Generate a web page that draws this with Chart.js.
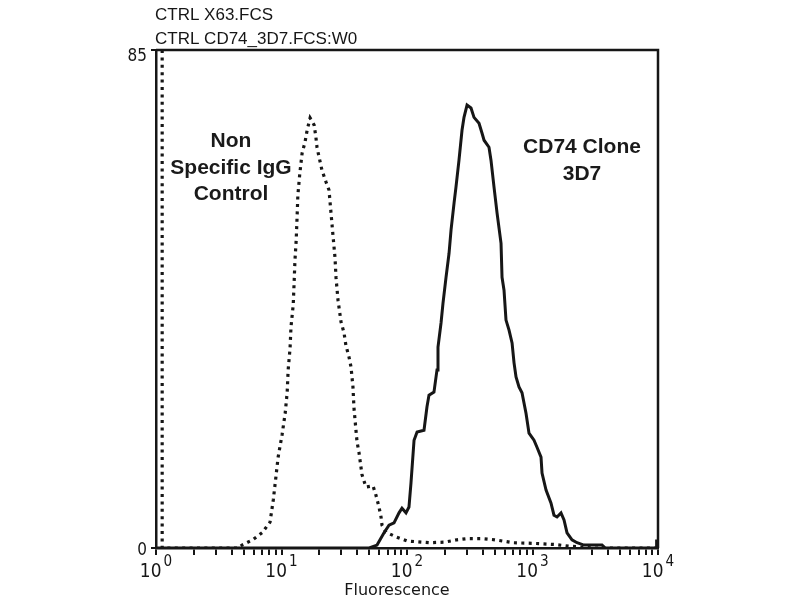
<!DOCTYPE html>
<html>
<head>
<meta charset="utf-8">
<script src="https://cdn.jsdelivr.net/npm/chart.js@4.4.1/dist/chart.umd.min.js"></script>
<style>
  body { margin: 0; background: #fff; }
  canvas { display: block; }
</style>
</head>
<body>
<canvas id="histo" width="800" height="600"></canvas>
<script>
// Non specific IgG control (dotted)
var ctrlX = [1.12, 1.12, 4.5, 4.85, 5.9, 7.0, 8.1, 8.6, 9.0, 9.4,
  10.1, 10.7, 11.1, 11.3, 11.7, 11.9, 12.4, 12.6, 12.8, 13.1,
  13.3, 13.5, 14.0, 14.6, 15.4, 16.0, 16.9, 18.2, 18.8, 19.2,
  21.0, 22.6, 23.9, 24.8, 25.7, 26.7, 27.2, 28.2, 29.8, 31.5,
  32.6, 34.5, 35.8, 37.1, 37.8, 39.2, 40.0, 41.5, 43.8, 47.1,
  53.6, 56.6, 59.8, 62.1, 63.2, 68.0, 81.7, 100, 150, 200,
  250, 300, 400, 500, 700, 1000, 1500, 2000, 3000, 10000];
var ctrlY = [85, 0, 0, 0.5, 1.4, 2.6, 4.4, 8.2, 11.9, 15.5,
  19.3, 23.0, 26.6, 30.4, 34.1, 37.7, 41.5, 45.2, 49.1, 52.6,
  56.3, 60.2, 64.0, 67.4, 69.3, 71.3, 73.4, 72.2, 70.1, 68.3,
  64.5, 62.5, 61.1, 57.2, 53.4, 49.5, 46.1, 42.3, 38.6, 36.7,
  34.6, 32.6, 30.9, 27.5, 23.9, 20.1, 18.1, 16.2, 12.5, 10.4,
  10.6, 9.0, 7.0, 5.3, 3.9, 2.7, 1.9, 1.2, 0.9, 1.0,
  1.4, 1.6, 1.6, 1.4, 0.9, 0.8, 0.6, 0.3, 0, 0];

// CD74 clone 3D7 (solid)
var cd74X = [1, 50, 57.7, 65.6, 71.9, 78.8, 86.4, 91.2, 98.2, 103.7,
  107.6, 113.8, 120.3, 136.6, 144.3, 149.7, 164.0, 173.4, 176.6, 186.7,
  193.6, 204.6, 216.3, 224.4, 237.2, 245.6, 259.6, 274.4, 284.6, 300.9,
  323.6, 341.9, 374.9, 396.3, 411.1, 450.1, 466.9, 493.6, 521.7, 561.4,
  571.8, 593.0, 615.0, 650.2, 687.3, 712.7, 739.2, 780.6, 824.9, 887.7,
  937.9, 1028, 1086, 1169, 1191, 1282, 1403, 1483, 1568, 1687,
  1783, 1884, 2064, 2263, 2573, 3580, 3800, 9700, 9750, 10000];
var cd74Y = [0, 0, 0.5, 2.6, 3.9, 4.3, 6.0, 6.8, 6.0, 7.0,
  11.1, 18.4, 19.8, 20.1, 24.1, 26.1, 26.6, 30.4, 34.3, 38.4,
  41.8, 46.2, 50.3, 54.3, 58.9, 61.6, 66.2, 71.3, 73.5, 75.6,
  75.1, 73.5, 72.5, 70.8, 69.6, 68.4, 66.2, 61.6, 57.2, 52.0,
  46.2, 44.0, 38.9, 37.2, 35.0, 31.6, 29.2, 27.5, 26.5, 23.0,
  19.6, 18.4, 17.2, 15.5, 12.8, 9.9, 7.7, 5.6, 5.3, 6.0,
  4.8, 2.6, 1.4, 0.9, 0.5, 0.5, 0, 0, 1.2, 1.2];

// axis ticks
var xDecades = [1, 10, 100, 1000, 10000];
var xExponents = ['0', '1', '2', '3', '4'];
var yTickValues = [0, 85];
var yTickLabels = ['0', '85'];

var headerLines = ['CTRL X63.FCS', 'CTRL CD74_3D7.FCS:W0'];
var ctrlNote = ['Non', 'Specific IgG', 'Control'];
var cd74Note = ['CD74 Clone', '3D7'];
var xTitle = 'Fluorescence';

var xTickValues = [];
xDecades.forEach(function(d, i){
  if (i === xDecades.length - 1) { xTickValues.push(d); return; }
  for (var k = 1; k < 10; k++) xTickValues.push(d * k);
});

function toPoints(xs, ys){
  return xs.map(function(x, i){ return {x: x, y: ys[i]}; });
}

var ink = '#161616';
var squeeze = 0.85;   // the axis numbers in the scan are horizontally narrow

function narrowText(ctx, text, x, y, font){
  ctx.save();
  ctx.font = font;
  ctx.translate(x, y);
  ctx.scale(squeeze, 1);
  ctx.textAlign = 'left';
  ctx.fillText(text, 0, 0);
  ctx.restore();
}
function narrowWidth(ctx, text, font){
  ctx.font = font;
  return ctx.measureText(text).width * squeeze;
}

// draws the box, the superscript tick labels and the free text
var flowText = {
  id: 'flowText',
  afterDraw: function(chart){
    var ctx = chart.ctx;
    var area = chart.chartArea;
    var xs = chart.scales.x, ys = chart.scales.y;
    ctx.save();
    ctx.strokeStyle = ink;
    ctx.lineWidth = 2.5;
    ctx.beginPath();
    ctx.moveTo(area.left, area.top);
    ctx.lineTo(area.right, area.top);
    ctx.lineTo(area.right, area.bottom);
    ctx.stroke();

    ctx.fillStyle = ink;
    ctx.textBaseline = 'alphabetic';

    // header
    ctx.font = '17px "Liberation Sans", Arial, sans-serif';
    ctx.textAlign = 'left';
    ctx.fillText(headerLines[0], area.left - 1, 20);
    ctx.fillText(headerLines[1], area.left - 1, 44);

    // y labels
    var yFont = '18px "DejaVu Sans", sans-serif';
    yTickValues.forEach(function(v, i){
      var py = ys.getPixelForValue(v);
      var w = narrowWidth(ctx, yTickLabels[i], yFont);
      narrowText(ctx, yTickLabels[i], 147 - w, v === 0 ? py + 7 : py + 11, yFont);
    });

    // x decade labels 10^k
    var baseFont = '20px "DejaVu Sans", sans-serif';
    var expFont = '16px "DejaVu Sans", sans-serif';
    xDecades.forEach(function(v, i){
      var px = xs.getPixelForValue(v);
      var wb = narrowWidth(ctx, '10', baseFont);
      var we = narrowWidth(ctx, xExponents[i], expFont);
      var x0 = px - (wb + we + 2) / 2;
      narrowText(ctx, '10', x0, 577, baseFont);
      narrowText(ctx, xExponents[i], x0 + wb + 2, 566, expFont);
    });

    ctx.font = '16px "DejaVu Sans", sans-serif';
    ctx.textAlign = 'center';
    ctx.fillText(xTitle, 397, 595);

    // annotations
    ctx.font = 'bold 21px "Liberation Sans", Arial, sans-serif';
    ctx.fillStyle = '#1a1a1a';
    ctrlNote.forEach(function(t, i){ ctx.fillText(t, 231, 147 + i * 26.5); });
    cd74Note.forEach(function(t, i){ ctx.fillText(t, 582, 153 + i * 27); });
    ctx.restore();
  }
};

var chart = new Chart(document.getElementById('histo').getContext('2d'), {
  type: 'line',
  data: {
    datasets: [
      {
        label: headerLines[0],
        data: toPoints(ctrlX, ctrlY),
        borderColor: ink,
        borderWidth: 3.2,
        borderDash: [3, 4.4],
        pointRadius: 0,
        fill: false,
        tension: 0
      },
      {
        label: headerLines[1],
        data: toPoints(cd74X, cd74Y),
        borderColor: ink,
        borderWidth: 3,
        pointRadius: 0,
        fill: false,
        tension: 0
      }
    ]
  },
  options: {
    responsive: false,
    animation: false,
    layout: { padding: { left: 148, right: 142, top: 50, bottom: 42 } },
    plugins: { legend: { display: false }, tooltip: { enabled: false } },
    scales: {
      x: {
        type: 'logarithmic',
        min: 1,
        max: 10000,
        afterBuildTicks: function(s){ s.ticks = xTickValues.map(function(v){ return {value: v}; }); },
        afterFit: function(s){ s.height = 10; },
        ticks: { display: false },
        grid: { drawOnChartArea: false, drawTicks: true, tickLength: 7, color: ink, lineWidth: 2 },
        border: { color: ink, width: 2.5 }
      },
      y: {
        min: 0,
        max: 85,
        afterBuildTicks: function(s){ s.ticks = yTickValues.map(function(v){ return {value: v}; }); },
        afterFit: function(s){ s.width = 8; },
        ticks: { display: false },
        grid: { drawOnChartArea: false, drawTicks: true, tickLength: 5, color: ink, lineWidth: 2 },
        border: { color: ink, width: 2.5 }
      }
    }
  },
  plugins: [flowText]
});
</script>
</body>
</html>
